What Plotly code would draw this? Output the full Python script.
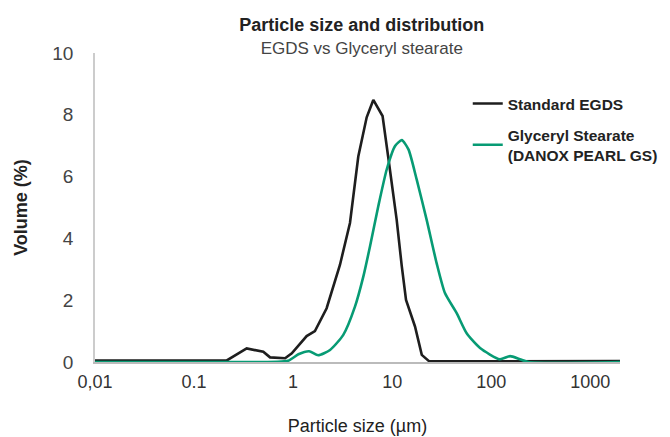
import plotly.graph_objects as go

# Particle sizes (µm) and volume (%)
egds_size = [0.01, 0.214, 0.34, 0.5, 0.585, 0.83, 0.97, 1.17, 1.37, 1.66, 2.18, 2.97,
             3.75, 4.55, 5.53, 6.45, 8.0, 9.1, 11.1, 12.5, 13.8, 17.0, 19.9, 23.7, 1995]
egds_vol = [0.05, 0.05, 0.44, 0.33, 0.15, 0.12, 0.28, 0.6, 0.84, 1.0, 1.74, 3.14,
            4.5, 6.65, 7.92, 8.48, 7.96, 6.66, 4.61, 3.1, 2.01, 1.15, 0.23, 0.02, 0.03]

gs_size = [0.01, 0.23, 0.89, 1.13, 1.45, 1.79, 2.36, 3.21, 4.22, 5.12, 5.97, 7.24,
           8.81, 10.7, 12.5, 14.6, 17.7, 22.3, 28.1, 34.1, 44.8, 56.5, 77.1, 122,
           155, 195, 237, 1995]
gs_vol = [0.0, 0.0, 0.04, 0.25, 0.35, 0.22, 0.39, 0.88, 1.8, 2.77, 3.74, 5.04,
          6.23, 6.99, 7.18, 6.88, 5.9, 4.6, 3.2, 2.23, 1.58, 0.93, 0.45, 0.09,
          0.19, 0.09, 0.0, 0.0]

x_tickvals = [0.01, 0.1, 1, 10, 100, 1000]
x_ticktext = ["0,01", "0.1", "1", "10", "100", "1000"]
y_tickvals = [0, 2, 4, 6, 8, 10]

FONT = "Liberation Sans, Arial, sans-serif"

fig = go.Figure()
fig.add_trace(go.Scatter(
    x=egds_size, y=egds_vol, mode="lines", name="<b>Standard EGDS</b>",
    legendgroup="a",
    line=dict(color="#1e1e1e", width=2.6),
))
fig.add_trace(go.Scatter(
    x=gs_size, y=gs_vol, mode="lines",
    name="<b>Glyceryl Stearate<br>(DANOX PEARL GS)</b>",
    legendgroup="b",
    line=dict(color="#079b74", width=2.6, shape="spline", smoothing=0.6),
))

fig.update_layout(
    width=670, height=437,
    margin=dict(l=95, r=50, t=53, b=75, autoexpand=False),
    plot_bgcolor="white", paper_bgcolor="white",
    font=dict(family=FONT, color="#333333"),
    title=dict(
        text="<b>Particle size and distribution</b><br><span style='font-size:17px;color:#444'>EGDS vs Glyceryl stearate</span>",
        x=0.54, xanchor="center", y=0.93, yanchor="middle",
        font=dict(size=18, color="#222222"),
    ),
    showlegend=True,
    legend=dict(
        x=0.71, y=0.89, xanchor="left", yanchor="top",
        font=dict(size=15.5, color="#222222"),
        bgcolor="rgba(0,0,0,0)", tracegroupgap=8,
        itemwidth=30,
    ),
    xaxis=dict(
        type="log", range=[-2.0, 3.3], automargin=False,
        tickvals=x_tickvals, ticktext=x_ticktext,
        showgrid=False, zeroline=False,
        showline=True, linecolor="#bbbbbb", linewidth=1.5,
        ticks="", tickfont=dict(size=18, color="#333333"),
        ticklabelstandoff=3,
        title=dict(text="Particle size (µm)", font=dict(size=18, color="#222222"), standoff=28),
    ),
    yaxis=dict(
        range=[0, 10], tickvals=y_tickvals, automargin=False,
        showgrid=False, zeroline=False,
        showline=True, linecolor="#cccccc", linewidth=1.5,
        ticks="", tickfont=dict(size=19, color="#444444"),
        ticklabelstandoff=16,
        title=dict(text="<b>Volume (%)</b>", font=dict(size=18, color="#222222"), standoff=20),
    ),
)

fig.write_html("out.html", config={"displayModeBar": False},
               post_script="document.body.style.margin='0';")
